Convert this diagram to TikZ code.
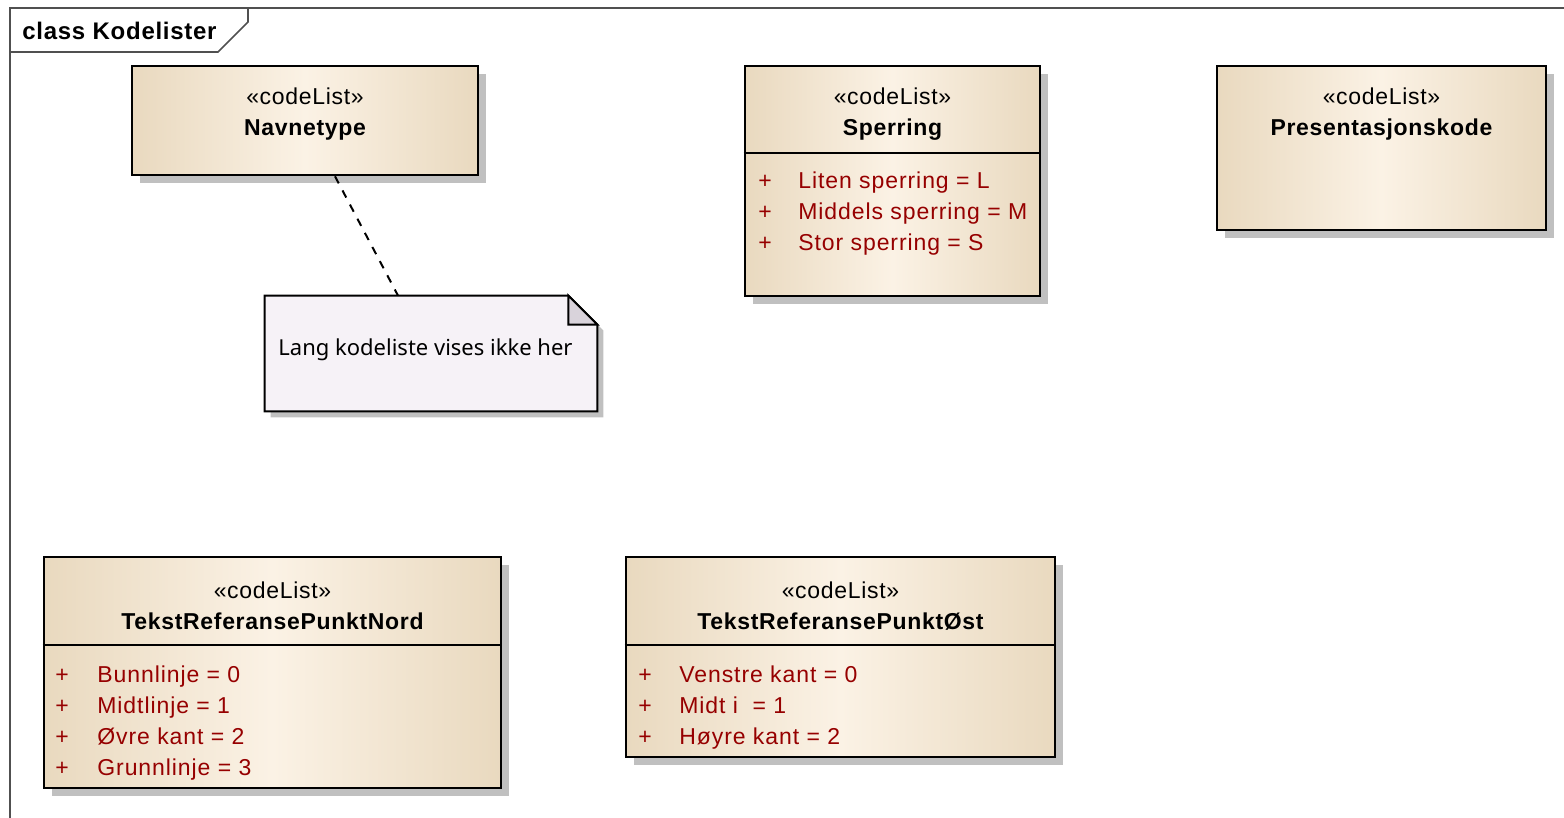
\documentclass[tikz,border=0pt]{standalone}
\usepackage{fontspec}
\setmainfont{Liberation Sans}
\newfontfamily\notefont{Noto Sans}
\newfontfamily\attrfont[LetterSpace=4]{Liberation Sans}
\newfontfamily\headfont[LetterSpace=3]{Liberation Sans}
\usetikzlibrary{shadows}
\definecolor{boxedge}{RGB}{233,217,191}
\definecolor{boxmid}{RGB}{251,242,229}
\definecolor{attrred}{RGB}{150,0,0}
\definecolor{shadowgray}{RGB}{192,192,192}
\definecolor{notefill}{RGB}{246,242,247}
\definecolor{foldfill}{RGB}{217,211,219}
\definecolor{framegray}{RGB}{80,80,80}
\tikzset{
  clsbox/.style={draw=black, line width=1.3pt, left color=boxedge, right color=boxedge, middle color=boxmid,
    drop shadow={shadow xshift=4pt, shadow yshift=-4pt, fill=shadowgray, opacity=1}, inner sep=0pt},
  stereo/.style={anchor=base, inner sep=0pt, font=\headfont\fontsize{11.5}{13}\selectfont},
  clsname/.style={anchor=base, inner sep=0pt, font=\headfont\fontsize{11.5}{13}\selectfont\bfseries},
  vis/.style={anchor=base, inner sep=0pt, text=attrred, font=\fontsize{11.5}{13}\selectfont},
  attr/.style={anchor=base west, inner sep=0pt, text=attrred, font=\attrfont\fontsize{11.5}{13}\selectfont},
  divider/.style={line width=1pt},
  framestyle/.style={draw=framegray, line width=0.8pt}
}
\begin{document}
\begin{tikzpicture}[x=0.5pt, y=-0.5pt]
\useasboundingbox (0,0) rectangle (1564,818);
% frame
\coordinate (fTL) at (10,8);
\coordinate (fTR) at (1564,8);
\coordinate (fBL) at (10,818);
\draw[framestyle] (fTR) -- (fTL) -- (fBL);
\coordinate (tabA) at (248,8);
\coordinate (tabB) at (248,22);
\coordinate (tabC) at (218,52);
\coordinate (tabD) at (10,52);
\draw[framestyle] (tabA) -- (tabB) -- (tabC) -- (tabD);
\node[anchor=base west, inner sep=0pt, font=\headfont\fontsize{12}{14}\selectfont\bfseries] (title) at (22,40) {class Kodelister};

% Navnetype
\node[clsbox, minimum width=173pt, minimum height=54.5pt] (nav) at (305,120.5) {};
\node[stereo] (navst) at (305,105) {«codeList»};
\node[clsname] (navnm) at (305,136) {Navnetype};

% Note
\node[minimum width=166pt, minimum height=57.5pt, inner sep=0pt] (note) at (431,353.5) {};
\fill[shadowgray] ([xshift=3pt,yshift=-3pt]note.north west) -- ([xshift=-11.5pt,yshift=-3pt]note.north east)
  -- ([xshift=3pt,yshift=-17.5pt]note.north east) -- ([xshift=3pt,yshift=-3pt]note.south east)
  -- ([xshift=3pt,yshift=-3pt]note.south west) -- cycle;
\filldraw[fill=notefill, draw=black, line width=1pt] (note.north west) -- ([xshift=-14.5pt]note.north east)
  -- ([yshift=-14.5pt]note.north east) -- (note.south east) -- (note.south west) -- cycle;
\filldraw[fill=foldfill, draw=black, line width=1pt, line join=miter] ([xshift=-14.5pt]note.north east)
  -- ([xshift=-14.5pt,yshift=-14.5pt]note.north east) -- ([yshift=-14.5pt]note.north east) -- cycle;
\node[anchor=base west, inner sep=0pt, font=\notefont\fontsize{11}{13}\selectfont] (notetext) at (278,356) {Lang kodeliste vises ikke her};
\draw[line width=1pt, dash pattern=on 4pt off 4pt] ([xshift=15pt]nav.south) -- ([xshift=-16.5pt]note.north);

% Sperring
\node[clsbox, minimum width=147.5pt, minimum height=115pt] (sp) at (892.5,181) {};
\draw[divider] (sp.west |- 0,153) -- (sp.east |- 0,153);
\node[stereo] (spst) at (892.5,105) {«codeList»};
\node[clsname] (spnm) at (892.5,136) {Sperring};
\node[vis] (sp1p) at (765,189) {+};
\node[attr] (sp1) at (798,189) {Liten sperring = L};
\node[vis] (sp2p) at (765,220) {+};
\node[attr] (sp2) at (798,220) {Middels sperring = M};
\node[vis] (sp3p) at (765,251) {+};
\node[attr] (sp3) at (798,251) {Stor sperring = S};

% Presentasjonskode
\node[clsbox, minimum width=164.5pt, minimum height=82pt] (pk) at (1381.5,148) {};
\node[stereo] (pkst) at (1381.5,105) {«codeList»};
\node[clsname] (pknm) at (1381.5,136) {Presentasjonskode};

% TekstReferansePunktNord
\node[clsbox, minimum width=228.5pt, minimum height=115.5pt] (nord) at (272.5,672.5) {};
\draw[divider] (nord.west |- 0,645) -- (nord.east |- 0,645);
\node[stereo] (nordst) at (272.5,598) {«codeList»};
\node[clsname] (nordnm) at (272.5,629) {TekstReferansePunktNord};
\node[vis] (n1p) at (62,682) {+};
\node[attr] (n1) at (97,682) {Bunnlinje = 0};
\node[vis] (n2p) at (62,713) {+};
\node[attr] (n2) at (97,713) {Midtlinje = 1};
\node[vis] (n3p) at (62,744) {+};
\node[attr] (n3) at (97,744) {Øvre kant = 2};
\node[vis] (n4p) at (62,775) {+};
\node[attr] (n4) at (97,775) {Grunnlinje = 3};

% TekstReferansePunktØst
\node[clsbox, minimum width=214.5pt, minimum height=100pt] (ost) at (840.5,657) {};
\draw[divider] (ost.west |- 0,645) -- (ost.east |- 0,645);
\node[stereo] (ostst) at (840.5,598) {«codeList»};
\node[clsname] (ostnm) at (840.5,629) {TekstReferansePunktØst};
\node[vis] (o1p) at (645,682) {+};
\node[attr] (o1) at (679,682) {Venstre kant = 0};
\node[vis] (o2p) at (645,713) {+};
\node[attr] (o2) at (679,713) {Midt i\ \ = 1};
\node[vis] (o3p) at (645,744) {+};
\node[attr] (o3) at (679,744) {Høyre kant = 2};
\end{tikzpicture}
\end{document}
